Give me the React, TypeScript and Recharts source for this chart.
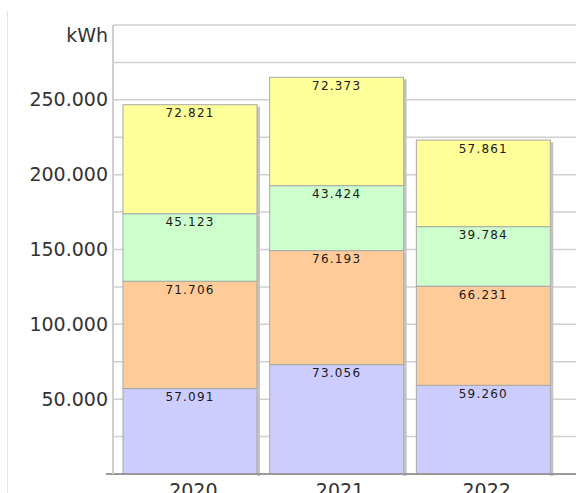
import React from "react";
import { BarChart, Bar, XAxis, YAxis, CartesianGrid, LabelList } from "recharts";

const years = ["2020", "2021", "2022"];
const seriesA = [57091, 73056, 59260];
const seriesB = [71706, 76193, 66231];
const seriesC = [45123, 43424, 39784];
const seriesD = [72821, 72373, 57861];
const yTicks = [0, 25000, 50000, 75000, 100000, 125000, 150000, 175000, 200000, 225000, 250000, 275000, 300000];
const unitLabel = "kWh";

const data = years.map((y, i) => ({
  year: y,
  a: seriesA[i],
  b: seriesB[i],
  c: seriesC[i],
  d: seriesD[i],
}));

const fmt = (v: number) => String(v).replace(/\B(?=(\d{3})+(?!\d))/g, ".");

const FONT = "'DejaVu Sans', Verdana, sans-serif";

const BarShape = (props: any) => {
  const { x, y, width, height, fill } = props;
  if (!height || height <= 0) return null;
  return (
    <g>
      <rect x={x + width} y={y + 2} width={3} height={height} fill="#c4c4c4" />
      <rect x={x} y={y} width={width} height={height} fill={fill} stroke="#a8a8a8" strokeWidth={1} />
    </g>
  );
};

const SegLabel = (props: any) => {
  const { x, y, width, value } = props;
  return (
    <text
      x={x + width / 2}
      y={y + 12.5}
      textAnchor="middle"
      fontFamily={FONT}
      fontSize={12}
      letterSpacing={1.2}
      fill="#1a1a1a"
    >
      {fmt(value)}
    </text>
  );
};

const YTick = (props: any) => {
  const { x, y, payload } = props;
  const v = payload.value;
  if (v === 300000) {
    return (
      <text x={x} y={y + 10} dy="0.35em" textAnchor="end" fontFamily={FONT} fontSize={19} fill="#333">
        {unitLabel}
      </text>
    );
  }
  if (v === 0 || v % 50000 !== 0) return null;
  return (
    <text x={x} y={y} dy="0.35em" textAnchor="end" fontFamily={FONT} fontSize={19} fill="#333">
      {fmt(v)}
    </text>
  );
};

const XTick = (props: any) => {
  const { x, y, payload } = props;
  return (
    <text x={x + 3} y={y + 15} textAnchor="middle" fontFamily={FONT} fontSize={19} fill="#333">
      {payload.value}
    </text>
  );
};

export default function App() {
  return (
    <div style={{ position: "absolute", left: 0, top: 0, width: 576, height: 493, background: "#fff", overflow: "hidden" }}>
      <div style={{ position: "absolute", left: 7, top: 11, width: 1, height: 482, background: "#e2e2e2" }} />
      <div style={{ position: "absolute", left: 106, top: 473, width: 8, height: 2, background: "#999" }} />
      <BarChart
        width={576}
        height={493}
        data={data}
        margin={{ top: 25, right: 0, left: 0, bottom: 0 }}
        barSize={134}
        style={{ position: "absolute", left: 0, top: 0 }}
      >
        <CartesianGrid vertical={false} stroke="#cfcfcf" strokeWidth={1.5} />
        <XAxis
          dataKey="year"
          height={19}
          padding={{ left: 4, right: 19 }}
          tickLine={false}
          axisLine={{ stroke: "#999", strokeWidth: 2 }}
          tick={<XTick />}
          interval={0}
        />
        <YAxis
          width={113}
          domain={[0, 300000]}
          ticks={yTicks}
          interval={0}
          tickLine={false}
          tickSize={3}
          tickMargin={2}
          axisLine={{ stroke: "#cfcfcf", strokeWidth: 2 }}
          tick={<YTick />}
        />
        <Bar dataKey="a" stackId="s" fill="#ccccff" shape={<BarShape />} isAnimationActive={false}>
          <LabelList dataKey="a" content={<SegLabel />} />
        </Bar>
        <Bar dataKey="b" stackId="s" fill="#ffcc99" shape={<BarShape />} isAnimationActive={false}>
          <LabelList dataKey="b" content={<SegLabel />} />
        </Bar>
        <Bar dataKey="c" stackId="s" fill="#ccffcc" shape={<BarShape />} isAnimationActive={false}>
          <LabelList dataKey="c" content={<SegLabel />} />
        </Bar>
        <Bar dataKey="d" stackId="s" fill="#ffff99" shape={<BarShape />} isAnimationActive={false}>
          <LabelList dataKey="d" content={<SegLabel />} />
        </Bar>
      </BarChart>
    </div>
  );
}
